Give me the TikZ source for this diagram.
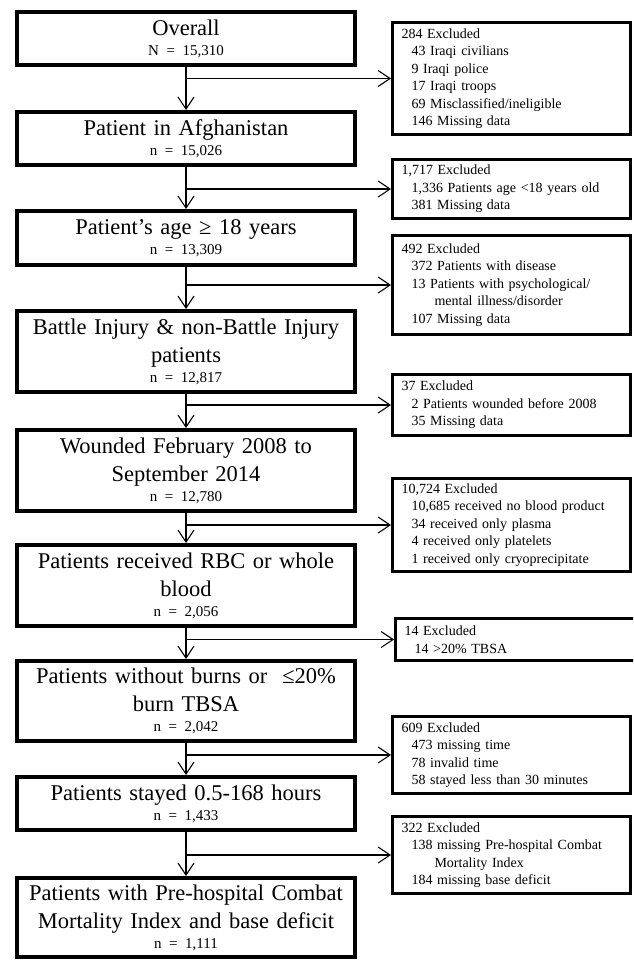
\documentclass[tikz,border=0pt]{standalone}
\usepackage{fontspec}
\setmainfont{Liberation Serif}
\usetikzlibrary{arrows.meta}
\newcommand{\ncount}[1]{{\fontsize{15}{18}\selectfont #1}}
\newcommand{\exind}{\hspace*{10pt}}
\newcommand{\exindd}{\hspace*{33pt}}
\begin{document}
\begin{tikzpicture}[x=1pt,y=-1pt,>={Straight Barb[length=12pt,width=16pt]},
	mainbox/.style={draw, line width=4pt, text width=320pt, inner xsep=9pt, align=center, font=\fontsize{22.5}{28}\selectfont},
	exclbox/.style={draw, line width=2.8pt, text width=220pt, inner xsep=9pt, align=left, font=\fontsize{14}{17.5}\selectfont},
	flow/.style={->, line width=1.1pt}]
	\def\mx{186} \def\ex{511.5} % columns
	\clip (0,0) rectangle (633,961);
	% main column
	\node[mainbox, minimum height=53pt] (overall) at (\mx,38.5) {Overall\\[-8pt]\ncount{N = 15,310}};
	\node[mainbox, minimum height=53pt] (afghan) at (\mx,138.5) {Patient in Afghanistan\\[-8pt]\ncount{n = 15,026}};
	\node[mainbox, minimum height=54pt] (adult) at (\mx,238) {Patient’s age ≥ 18 years\\[-8pt]\ncount{n = 13,309}};
	\node[mainbox, minimum height=81pt] (injury) at (\mx,351.5) {Battle Injury \& non-Battle Injury\\patients\\[-8pt]\ncount{n = 12,817}};
	\node[mainbox, minimum height=81pt] (period) at (\mx,470.5) {Wounded February 2008 to\\September 2014\\[-8pt]\ncount{n = 12,780}};
	\node[mainbox, minimum height=81pt] (blood) at (\mx,585.5) {Patients received RBC or whole\\blood\\[-8pt]\ncount{n = 2,056}};
	\node[mainbox, minimum height=80pt] (burns) at (\mx,701) {Patients without burns or~ ≤20\%\\burn TBSA\\[-8pt]\ncount{n = 2,042}};
	\node[mainbox, minimum height=53pt] (stay) at (\mx,803.5) {Patients stayed 0.5-168 hours\\[-8pt]\ncount{n = 1,433}};
	\node[mainbox, minimum height=79pt] (final) at (\mx,917.5) {Patients with Pre-hospital Combat\\Mortality Index and base deficit\\[-8pt]\ncount{n = 1,111}};
	% excluded
	\node[exclbox, minimum height=112pt] (excl1) at (\ex,78.5) {284 Excluded\\\exind 43 Iraqi civilians\\\exind 9 Iraqi police\\\exind 17 Iraqi troops\\\exind 69 Misclassified/ineligible\\\exind 146 Missing data};
	\node[exclbox, minimum height=59pt] (excl2) at (\ex,189) {1,717 Excluded\\\exind 1,336 Patients age <18 years old\\\exind 381 Missing data};
	\node[exclbox, minimum height=99pt] (excl3) at (\ex,285) {492 Excluded\\\exind 372 Patients with disease\\\exind 13 Patients with psychological/\\\exindd mental illness/disorder\\\exind 107 Missing data};
	\node[exclbox, minimum height=61pt] (excl4) at (\ex,405) {37 Excluded\\\exind 2 Patients wounded before 2008\\\exind 35 Missing data};
	\node[exclbox, minimum height=93pt] (excl5) at (\ex,525) {10,724 Excluded\\\exind 10,685 received no blood product\\\exind 34 received only plasma\\\exind 4 received only platelets\\\exind 1 received only cryoprecipitate};
	\node[exclbox, minimum height=42pt, text width=252pt] (excl6) at (530.5,639.5) {14 Excluded\\\exind 14 >20\% TBSA};
	\node[exclbox, minimum height=77pt] (excl7) at (\ex,755) {609 Excluded\\\exind 473 missing time\\\exind 78 invalid time\\\exind 58 stayed less than 30 minutes};
	\node[exclbox, minimum height=77pt] (excl8) at (\ex,855) {322 Excluded\\\exind 138 missing Pre-hospital Combat\\\exindd Mortality Index\\\exind 184 missing base deficit};
	% arrows
	\foreach \a/\b/\c in {overall/afghan/excl1, afghan/adult/excl2, adult/injury/excl3, injury/period/excl4, period/blood/excl5, blood/burns/excl6, burns/stay/excl7, stay/final/excl8}{
		\draw[flow] (\a) -- (\b);
		\coordinate (j) at (\a.south |- \c.west);
		\draw[flow] (j) -- (\c);
	}
\end{tikzpicture}
\end{document}
